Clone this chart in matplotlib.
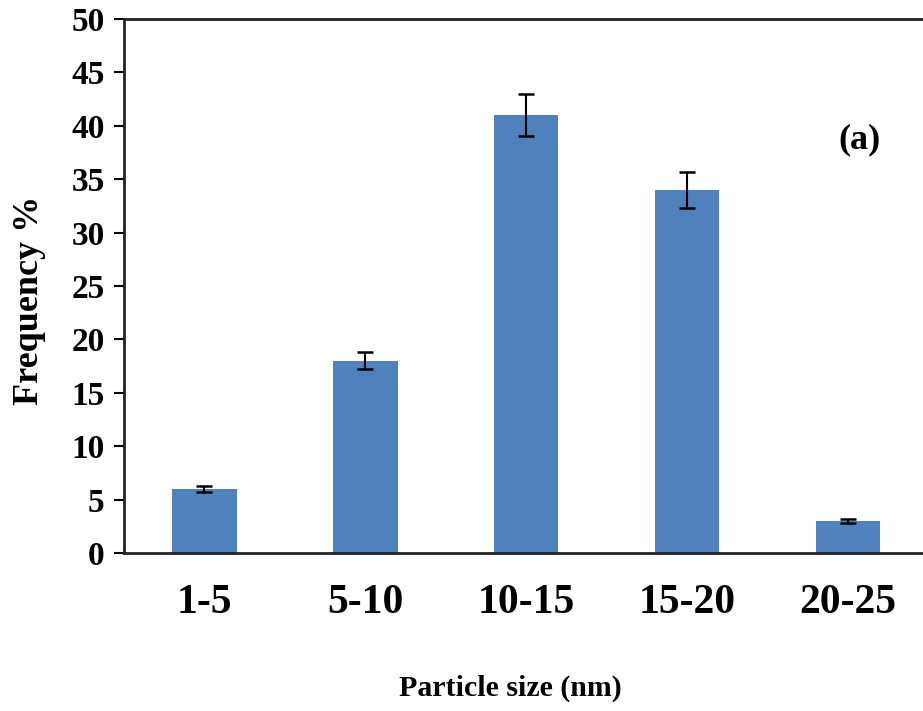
import matplotlib
matplotlib.use("Agg")
import matplotlib.pyplot as plt
import numpy as np

categories = ["1-5", "5-10", "10-15", "15-20", "20-25"]
frequency = [6.0, 18.0, 41.0, 34.0, 3.0]
errors = [0.3, 0.8, 2.0, 1.7, 0.15]
yticks = [0, 5, 10, 15, 20, 25, 30, 35, 40, 45, 50]

plt.rcParams['font.family'] = ['Liberation Serif', 'DejaVu Serif']

fig = plt.figure(figsize=(9.23, 7.11), dpi=100)
ax = fig.add_axes([124/923, 1-553/711, (928.5-124)/923, (553-19)/711])

x = np.arange(len(categories))
ax.bar(x, frequency, width=0.4, color="#4F81BD", zorder=2)
ax.errorbar(x, frequency, yerr=errors, fmt='none', ecolor='black',
            elinewidth=1.5, capsize=6, capthick=1.8, zorder=3)

ax.set_xlim(-0.5, 4.5)
ax.set_ylim(0, 50)
ax.set_yticks(yticks)
ax.set_yticklabels([str(v) for v in yticks], fontsize=24, fontweight='bold')
ax.set_xticks(x)
ax.set_xticklabels(categories, fontsize=30, fontweight='bold')
ax.tick_params(axis='x', length=0, pad=22)
ax.tick_params(axis='y', direction='out', length=7, width=1.5, pad=7)

for side in ['left', 'bottom', 'top']:
    ax.spines[side].set_linewidth(2)
    ax.spines[side].set_color('#222222')
ax.spines['right'].set_visible(False)

ax.set_xlabel("Particle size (nm)", fontsize=21.5, fontweight='bold')
ax.xaxis.set_label_coords((510 - 124) / (928.5 - 124), (553 - 688) / (553 - 19))
ax.set_ylabel("Frequency %", fontsize=26, fontweight='bold')
ax.yaxis.set_label_coords((30 - 124) / (928.5 - 124), (553 - 300) / (553 - 19))
ax.xaxis.label.set_va('center')
ax.yaxis.label.set_va('center')

ax.text((860 - 124) / (928.5 - 124), (553 - 140) / (553 - 19), "(a)",
        transform=ax.transAxes, fontsize=26, fontweight='bold',
        ha='center', va='center')

fig.savefig("out.png", dpi=100)
